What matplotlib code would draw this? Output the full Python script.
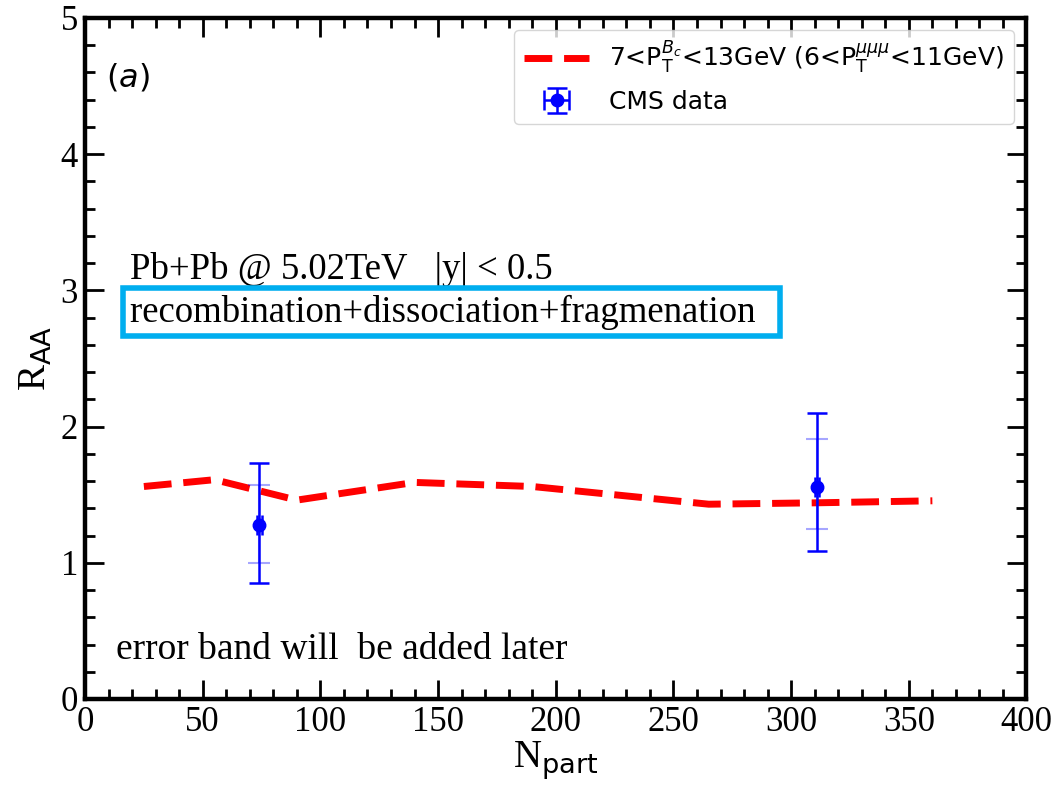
import matplotlib
matplotlib.use("Agg")
import matplotlib.pyplot as plt
from matplotlib.ticker import MultipleLocator

# Theory curve (red dashed)
npart_theory = [25, 55, 90, 140, 190, 265, 310, 360]
raa_theory = [1.56, 1.61, 1.46, 1.59, 1.56, 1.43, 1.44, 1.455]

# CMS data
npart_cms = [74, 311]
raa_cms = [1.28, 1.555]
err_stat_lo = [0.43, 0.47]
err_stat_hi = [0.45, 0.545]
err_sys_lo = [0.28, 0.31]
err_sys_hi = [0.29, 0.355]
xerr_cms = [1, 1]

xticks = [0, 50, 100, 150, 200, 250, 300, 350, 400]
yticks = [0, 1, 2, 3, 4, 5]

plt.rcParams['mathtext.fontset'] = 'dejavusans'

fig = plt.figure(figsize=(10.59, 7.86), dpi=100)
ax = fig.add_axes([0.0803, 0.1107, 0.889, 0.8665])

ax.plot(npart_theory, raa_theory, color='red', lw=5, ls=(0, (4.0, 1.7)),
        label=r'7<P$_\mathrm{T}^{B_c}$<13GeV (6<P$_\mathrm{T}^{\mu\mu\mu}$<11GeV)')
ax.errorbar(npart_cms, raa_cms, yerr=[err_sys_lo, err_sys_hi], fmt='none',
            ecolor='blue', alpha=0.35, capsize=8, elinewidth=1.5, capthick=1.5)
ax.errorbar(npart_cms, raa_cms, yerr=[err_stat_lo, err_stat_hi], xerr=xerr_cms,
            fmt='o', color='blue', ms=9, capsize=7, elinewidth=1.8, capthick=1.8,
            label='CMS data')

ax.set_xlim(0, 400)
ax.set_ylim(0, 5)
ax.set_xticks(xticks)
ax.set_yticks(yticks)
ax.xaxis.set_minor_locator(MultipleLocator(10))
ax.yaxis.set_minor_locator(MultipleLocator(0.2))
ax.tick_params(which='both', direction='in', top=True, right=True, width=2)
ax.tick_params(which='major', length=14)
ax.tick_params(which='minor', length=7)
ax.tick_params(axis='x', which='major', pad=5)
ax.tick_params(axis='y', which='major', pad=5)
for lab in ax.get_xticklabels() + ax.get_yticklabels():
    lab.set_fontfamily('Liberation Serif')
    lab.set_fontsize(25)
for sp in ax.spines.values():
    sp.set_linewidth(3.2)

ax.set_xlabel(r'N$_\mathrm{part}$', fontsize=28, family='Liberation Serif', labelpad=0)
ax.set_ylabel(r'R$_\mathrm{AA}$', fontsize=28, family='Liberation Serif', labelpad=4)

ax.text(0.022, 0.9, r'$(a)$', transform=ax.transAxes, fontsize=23)
ax.text(19, 3.08, 'Pb+Pb @ 5.02TeV   |y| < 0.5', family='Liberation Serif', fontsize=26.5)
ax.text(19, 2.77, 'recombination+dissociation+fragmenation  ', family='Liberation Serif',
        fontsize=26.5,
        bbox=dict(boxstyle='square,pad=0.18', fc='white', ec='#00aeef', lw=4))
ax.text(13, 0.29, 'error band will  be added later', family='Liberation Serif', fontsize=27)

leg = ax.legend(loc='upper right', fontsize=18, handlelength=2.6,
                borderaxespad=0.5, labelspacing=0.55)

fig.savefig('out.png', dpi=100)
